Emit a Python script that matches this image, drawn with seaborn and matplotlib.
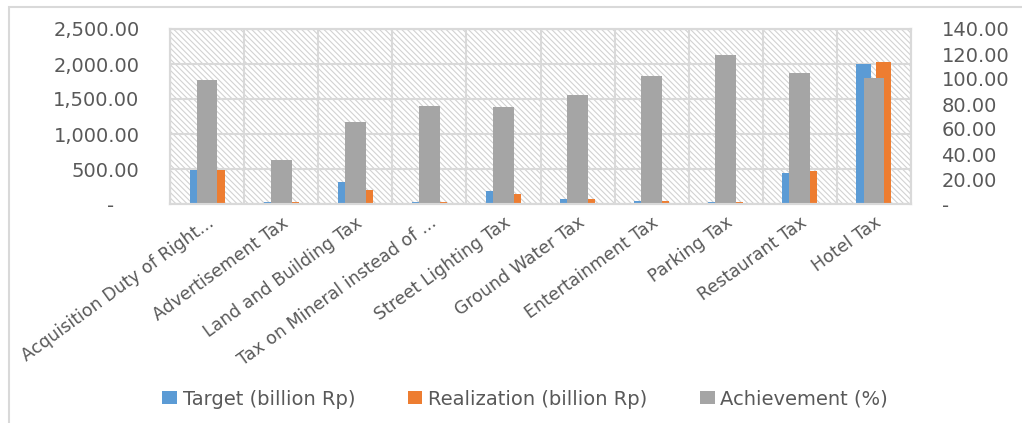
import matplotlib
matplotlib.use('Agg')
import matplotlib.pyplot as plt
import seaborn as sns
import pandas as pd
import numpy as np
from matplotlib.ticker import FuncFormatter, MultipleLocator
from matplotlib.patches import Rectangle, Patch

# values
taxes = ['Acquisition Duty of Right...', 'Advertisement Tax', 'Land and Building Tax',
         'Tax on Mineral instead of ...', 'Street Lighting Tax', 'Ground Water Tax',
         'Entertainment Tax', 'Parking Tax', 'Restaurant Tax', 'Hotel Tax']
target = [486, 33, 315, 30, 181, 72, 47, 33, 448, 2003]
realization = [486, 30, 200, 25, 139, 72, 47, 30, 472, 2022]
achievement = [99.4, 35.0, 65.9, 78.5, 77.2, 87.1, 102.0, 119.4, 104.7, 101.0]

series_names = ['Target (billion Rp)', 'Realization (billion Rp)', 'Achievement (%)']
blue, orange, gray = '#5B9BD5', '#ED7D31', '#A5A5A5'
txt = '#595959'
gridc = '#d9d9d9'

sns.set_theme(style='white')
plt.rcParams['font.family'] = ['DejaVu Sans']
plt.rcParams['hatch.color'] = '#d2d2d2'
plt.rcParams['hatch.linewidth'] = 0.8

df = pd.DataFrame({'tax': taxes, series_names[0]: target, series_names[1]: realization})
long = df.melt(id_vars='tax', var_name='series', value_name='value')

fig = plt.figure(figsize=(10.22, 4.23), dpi=100)
ax = fig.add_axes([170/1022, 1-204/423, 741/1022, 175/423])

# hatched plot area
ax.add_patch(Rectangle((0, 0), 1, 1, transform=ax.transAxes, facecolor='white',
                       edgecolor='#d2d2d2', hatch='\\\\\\\\\\\\', lw=0, zorder=0))

sns.barplot(data=long, x='tax', y='value', hue='series', palette=[blue, orange],
            width=0.54, gap=0.25, saturation=1, ax=ax, legend=False, zorder=2,
            edgecolor='none', linewidth=0)

ax2 = ax.twinx()
sns.barplot(x=taxes, y=achievement, color=gray, width=0.28, saturation=1, ax=ax2, zorder=2,
            edgecolor='none', linewidth=0)

#axes limits / ticks
ax.set_ylim(0, 2500)
ax.yaxis.set_major_locator(MultipleLocator(500))
ax2.set_ylim(0, 140)
ax2.yaxis.set_major_locator(MultipleLocator(20))
ax.yaxis.set_major_formatter(FuncFormatter(lambda v, p: '-    ' if abs(v) < 1e-9 else f'{v:,.2f}'))
ax2.yaxis.set_major_formatter(FuncFormatter(lambda v, p: '-' if abs(v) < 1e-9 else f'{v:,.2f}'))

ax.set_xticks(range(len(taxes)))
ax.set_xticklabels(taxes, rotation=36, ha='right', rotation_mode='anchor', fontsize=12.5, color=txt)
ax.set_xticks(np.arange(-0.5, len(taxes), 1), minor=True)
ax.set_xlim(-0.5, len(taxes) - 0.5)

ax.set_axisbelow(True)
ax.grid(False)
ax.yaxis.grid(True, color=gridc, lw=1.5)
ax.xaxis.grid(True, which='minor', color=gridc, lw=1.5)
ax.tick_params(axis='y', length=0, colors=txt, labelsize=14, pad=22)
ax.tick_params(axis='x', which='both', length=0, pad=7)
ax2.tick_params(axis='y', length=0, colors=txt, labelsize=14, pad=22)
for a in (ax, ax2):
    a.set_xlabel('')
    a.set_ylabel('')
    for s in a.spines.values():
        s.set_color(gridc)
        s.set_linewidth(1.5)

handles = [Patch(facecolor=c, edgecolor='none', label=n)
           for c, n in zip([blue, orange, gray], series_names)]
fig.legend(handles=handles, loc='center', bbox_to_anchor=(0.514, 1-399/423), ncol=3,
           frameon=False, fontsize=14, labelcolor=txt, handlelength=0.75,
           handleheight=0.6, handletextpad=0.3, columnspacing=2.7)

# chart frame (only left/top edges fall inside the picture)
fig.add_artist(Rectangle((9/1022, -0.05), 1.1, 1-7/423+0.05, transform=fig.transFigure,
                         fill=False, edgecolor=gridc, lw=1.5))

fig.savefig('out.png', dpi=100)
